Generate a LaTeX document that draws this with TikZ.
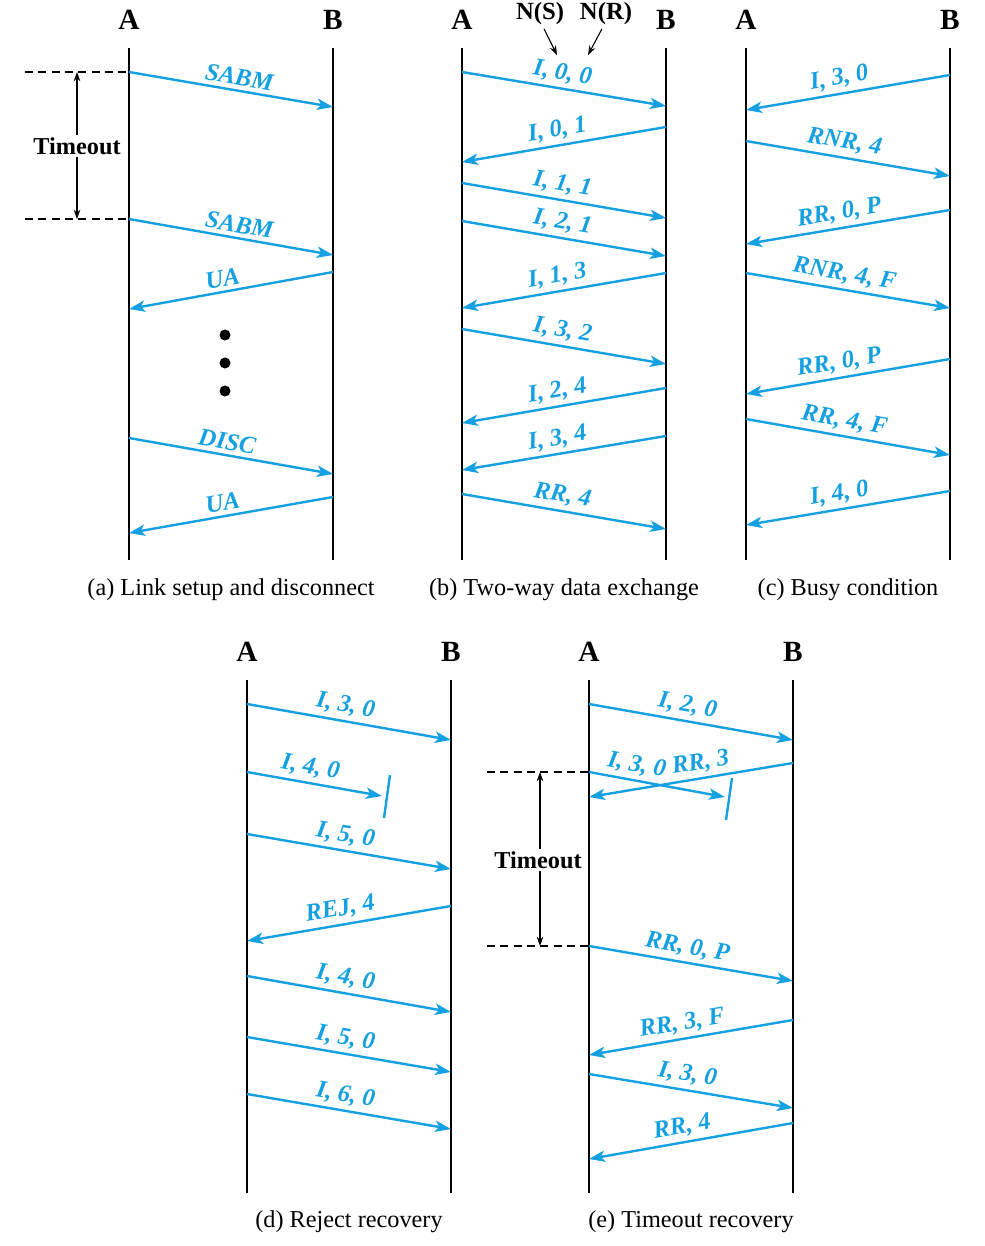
\documentclass[tikz,border=0pt]{standalone}
\usepackage{fontspec}
\setmainfont{Liberation Serif}
\usetikzlibrary{arrows.meta}
\definecolor{msgblue}{RGB}{20,160,225}
\tikzset{
  life/.style={line width=1pt, black},
  msg/.style={line width=1.8pt, msgblue, -{Stealth[length=12pt,width=8.5pt,inset=3pt]}},
  lbl/.style={sloped, above=2.5pt, text=msgblue, font=\fontsize{18.5}{20}\selectfont\bfseries\itshape, inner sep=0.5pt},
  hd/.style={font=\fontsize{22}{24}\selectfont\bfseries},
  capt/.style={font=\fontsize{18.2}{20}\selectfont},
  dsh/.style={line width=0.8pt, dash pattern=on 6pt off 4pt},
  tmo/.style={line width=0.8pt, {Stealth[length=7pt,width=5pt]}-{Stealth[length=7pt,width=5pt]}},
  tmol/.style={fill=white, font=\fontsize{18.2}{20}\selectfont\bfseries, inner sep=2pt},
  lost/.style={line width=1.8pt, msgblue},
  nlab/.style={font=\fontsize{18.5}{20}\selectfont\bfseries, inner sep=1pt},
  narr/.style={line width=0.8pt, -{Stealth[length=7pt,width=5pt]}}
}
\begin{document}
\begin{tikzpicture}[x=0.75pt,y=-0.75pt]
\useasboundingbox (0,0) rectangle (985,1246);
% ---------- Panel (a)
\node[hd] (aA) at (129,20) {A};
\node[hd] (aB) at (333,20) {B};
\draw[life] (129,48) -- (129,560);
\draw[life] (333,48) -- (333,560);
\draw[dsh] (25,72) -- (129,72);
\draw[dsh] (25,219) -- (129,219);
\coordinate (at1) at (77,72);
\coordinate (at2) at (77,219);
\draw[tmo] (at1) -- (at2);
\node[tmol] (atl) at (77,146) {Timeout};
\draw[msg] (129,72) -- (333,107) node[lbl,pos=0.53] {SABM};
\draw[msg] (129,219) -- (333,255) node[lbl,pos=0.53] {SABM};
\draw[msg] (333,272) -- (129,309) node[lbl,pos=0.53] {UA};
\fill (225,335) circle (5.5);
\fill (225,363) circle (5.5);
\fill (225,391) circle (5.5);
\draw[msg] (129,438) -- (333,474) node[lbl,pos=0.47] {DISC};
\draw[msg] (333,497) -- (129,533) node[lbl,pos=0.53] {UA};
\node[capt] (capa) at (231,590) {(a) Link setup and disconnect};
% ---------- Panel (b)
\node[hd] (bA) at (462,20) {A};
\node[hd] (bB) at (666,20) {B};
\node[nlab] (ns) at (540,14) {N(S)};
\node[nlab] (nr) at (606,14) {N(R)};
\coordinate (nst) at (557,55);
\coordinate (nrt) at (588,55);
\draw[narr] (ns.south) ++(4,2) -- (nst);
\draw[narr] (nr.south) ++(-4,2) -- (nrt);
\draw[life] (462,48) -- (462,560);
\draw[life] (666,48) -- (666,560);
\draw[msg] (462,72) -- (666,106) node[lbl,pos=0.48] {I, 0, 0};
\draw[msg] (666,127) -- (462,162) node[lbl,pos=0.52] {I, 0, 1};
\draw[msg] (462,183) -- (666,218) node[lbl,pos=0.48] {I, 1, 1};
\draw[msg] (462,221) -- (666,256) node[lbl,pos=0.48] {I, 2, 1};
\draw[msg] (666,273) -- (462,308) node[lbl,pos=0.52] {I, 1, 3};
\draw[msg] (462,329) -- (666,364) node[lbl,pos=0.48] {I, 3, 2};
\draw[msg] (666,388) -- (462,423) node[lbl,pos=0.52] {I, 2, 4};
\draw[msg] (666,436) -- (462,470) node[lbl,pos=0.52] {I, 3, 4};
\draw[msg] (462,494) -- (666,529) node[lbl,pos=0.48] {RR, 4};
\node[capt] (capb) at (564,590) {(b) Two-way data exchange};
% ---------- Panel (c)
\node[hd] (cA) at (746,20) {A};
\node[hd] (cB) at (950,20) {B};
\draw[life] (746,48) -- (746,560);
\draw[life] (950,48) -- (950,560);
\draw[msg] (950,75) -- (746,110) node[lbl,pos=0.53] {I, 3, 0};
\draw[msg] (746,141) -- (950,176) node[lbl,pos=0.47] {RNR, 4};
\draw[msg] (950,210) -- (746,244) node[lbl,pos=0.53] {RR, 0, P};
\draw[msg] (746,273) -- (950,308) node[lbl,pos=0.47] {RNR, 4, F};
\draw[msg] (950,359) -- (746,394) node[lbl,pos=0.53] {RR, 0, P};
\draw[msg] (746,419) -- (950,455) node[lbl,pos=0.47] {RR, 4, F};
\draw[msg] (950,491) -- (746,525) node[lbl,pos=0.53] {I, 4, 0};
\node[capt] (capc) at (848,590) {(c) Busy condition};
% ---------- Panel (d)
\node[hd] (dA) at (247,652) {A};
\node[hd] (dB) at (451,652) {B};
\draw[life] (247,680) -- (247,1193);
\draw[life] (451,680) -- (451,1193);
\draw[msg] (247,704) -- (451,740) node[lbl,pos=0.47] {I, 3, 0};
\draw[msg] (247,772) -- (382,796) node[lbl,pos=0.45] {I, 4, 0};
\draw[lost] (390,775) -- (384,818);
\draw[msg] (247,834) -- (451,869) node[lbl,pos=0.47] {I, 5, 0};
\draw[msg] (451,906) -- (247,941) node[lbl,pos=0.53] {REJ, 4};
\draw[msg] (247,976) -- (451,1012) node[lbl,pos=0.47] {I, 4, 0};
\draw[msg] (247,1037) -- (451,1072) node[lbl,pos=0.47] {I, 5, 0};
\draw[msg] (247,1094) -- (451,1129) node[lbl,pos=0.47] {I, 6, 0};
\node[capt] (capd) at (349,1222) {(d) Reject recovery};
% ---------- Panel (e)
\node[hd] (eA) at (589,652) {A};
\node[hd] (eB) at (793,652) {B};
\draw[life] (589,680) -- (589,1193);
\draw[life] (793,680) -- (793,1193);
\draw[msg] (589,704) -- (793,740) node[lbl,pos=0.47] {I, 2, 0};
\draw[dsh] (487,772) -- (589,772);
\draw[dsh] (487,946) -- (589,946);
\coordinate (et1) at (540,772);
\coordinate (et2) at (540,946);
\draw[tmo] (et1) -- (et2);
\node[tmol] (etl) at (538,860) {Timeout};
\draw[msg] (589,772) -- (725,797) node[lbl,pos=0.33] {I, 3, 0};
\draw[lost] (732,778) -- (726,820);
\draw[msg] (793,763) -- (589,797) node[lbl,pos=0.44] {RR, 3};
\draw[msg] (589,946) -- (793,981) node[lbl,pos=0.47] {RR, 0, P};
\draw[msg] (793,1020) -- (589,1055) node[lbl,pos=0.53] {RR, 3, F};
\draw[msg] (589,1074) -- (793,1108) node[lbl,pos=0.47] {I, 3, 0};
\draw[msg] (793,1123) -- (589,1159) node[lbl,pos=0.53] {RR, 4};
\node[capt] (cape) at (691,1222) {(e) Timeout recovery};
\end{tikzpicture}
\end{document}
